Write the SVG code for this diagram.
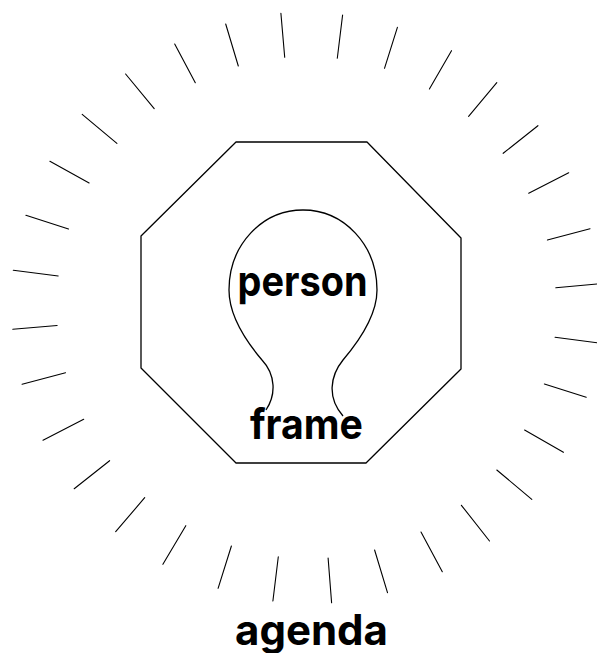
<svg xmlns="http://www.w3.org/2000/svg" width="597" height="653" viewBox="0 0 597 653">
<style>
.ray{stroke:#000;stroke-width:1.1;fill:none;stroke-linecap:round}
.shape{stroke:#000;stroke-width:1.3;fill:none;stroke-linejoin:round}
.lbl{font-family:Inter,"DejaVu Sans",sans-serif;font-weight:700;font-size:42px;fill:#000}
</style>
<rect width="597" height="653" fill="#fff"/>
<g id="agenda-rays">
<line class="ray" x1="280.9" y1="13.3" x2="284.7" y2="57.3"/>
<line class="ray" x1="342.6" y1="15" x2="337.3" y2="58.3"/>
<line class="ray" x1="225.7" y1="24" x2="238.3" y2="66"/>
<line class="ray" x1="397.4" y1="27.3" x2="384.5" y2="68.3"/>
<line class="ray" x1="174.7" y1="44" x2="195.3" y2="82.7"/>
<line class="ray" x1="451.5" y1="50.7" x2="429.4" y2="89"/>
<line class="ray" x1="125.6" y1="74" x2="154.2" y2="108.7"/>
<line class="ray" x1="496.8" y1="82.7" x2="468.6" y2="116.3"/>
<line class="ray" x1="82.2" y1="114.3" x2="116.9" y2="143.3"/>
<line class="ray" x1="537.9" y1="125.7" x2="503.2" y2="153.3"/>
<line class="ray" x1="49.9" y1="161.3" x2="89.1" y2="183"/>
<line class="ray" x1="568.7" y1="172.7" x2="528.7" y2="193.3"/>
<line class="ray" x1="25.9" y1="215.3" x2="68.5" y2="229"/>
<line class="ray" x1="590" y1="228.7" x2="547.4" y2="240"/>
<line class="ray" x1="13.3" y1="270.3" x2="58.2" y2="276"/>
<line class="ray" x1="597" y1="284" x2="555.8" y2="287.7"/>
<line class="ray" x1="12.8" y1="329.3" x2="57.1" y2="325.5"/>
<line class="ray" x1="555" y1="337.3" x2="597" y2="342.7"/>
<line class="ray" x1="22.1" y1="384.3" x2="65.5" y2="372.7"/>
<line class="ray" x1="544.4" y1="384" x2="586.2" y2="397.3"/>
<line class="ray" x1="43" y1="440.3" x2="83.7" y2="419.3"/>
<line class="ray" x1="524.6" y1="430" x2="563.4" y2="452.3"/>
<line class="ray" x1="74.2" y1="488.7" x2="109.6" y2="460.7"/>
<line class="ray" x1="496.8" y1="470" x2="531.8" y2="499.3"/>
<line class="ray" x1="115.7" y1="531.7" x2="144.7" y2="497.7"/>
<line class="ray" x1="461.4" y1="505.3" x2="489.5" y2="541"/>
<line class="ray" x1="162.9" y1="564.3" x2="185.8" y2="525.7"/>
<line class="ray" x1="421" y1="532" x2="442.3" y2="571.7"/>
<line class="ray" x1="218.1" y1="588.3" x2="231.4" y2="546"/>
<line class="ray" x1="374.6" y1="550" x2="387.5" y2="592.7"/>
<line class="ray" x1="272.9" y1="601" x2="278.3" y2="556.7"/>
<line class="ray" x1="328.1" y1="558" x2="331.6" y2="602.7"/>
</g>
<g id="frame">
<polygon class="shape" points="236,142 367,142 461,238 461,369 366,463 236,463 141,368 141,236"/>
</g>
<g id="person">
<path class="shape" d="M266 410 C276 395 276 375 262 360 C245 340 229 315 229 290 C229 245 262 210 303 210 C344 210 377 245 377 290 C377 315 360 340 343 360 C330 376 327 398 343 416"/>
</g>
<g id="labels">
<text class="lbl" x="237.5" y="296" textLength="130" lengthAdjust="spacingAndGlyphs">person</text>
<text class="lbl" x="250" y="439" textLength="113" lengthAdjust="spacingAndGlyphs">frame</text>
<text class="lbl" x="235" y="645" textLength="153" lengthAdjust="spacingAndGlyphs">agenda</text>
</g>
</svg>
